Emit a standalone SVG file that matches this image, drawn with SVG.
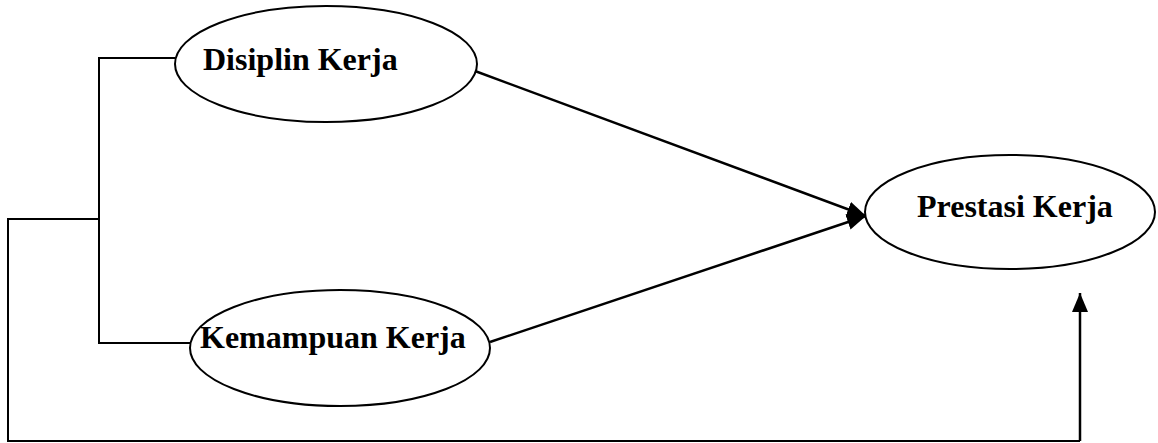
<svg xmlns="http://www.w3.org/2000/svg" width="1158" height="443" viewBox="0 0 1158 443">
  <style>
    .node ellipse { fill: #fff; stroke: #000; stroke-width: 2; }
    .node text { font-family: "Liberation Serif", "Times New Roman", serif; font-weight: bold; font-size: 32px; fill: #000; }
    .wire { fill: none; stroke: #000; stroke-width: 2; }
    .link { fill: none; stroke: #000; stroke-width: 2.5; }
  </style>
  <defs>
    <marker id="head" viewBox="0 0 10 10" refX="10" refY="5" markerWidth="19" markerHeight="16" markerUnits="userSpaceOnUse" orient="auto" preserveAspectRatio="none">
      <path d="M0,0 L10,5 L0,10 Z" fill="#000"/>
    </marker>
  </defs>

  <g id="connectors">
    <!-- bracket joining the two inputs -->
    <polyline class="wire" points="175,58 99,58 99,343 190,343"/>
    <!-- outer loop to the outcome -->
    <polyline class="wire" points="99,219 8,219 8,441 1080,441"/>
    <line class="link" x1="1080" y1="441" x2="1080" y2="293" marker-end="url(#head)"/>
    <!-- direct effects -->
    <line class="link" x1="475" y1="71" x2="866" y2="216" marker-end="url(#head)"/>
    <line class="link" x1="490" y1="342" x2="866" y2="216" marker-end="url(#head)"/>
  </g>

  <g id="disiplin" class="node">
    <ellipse cx="326" cy="64" rx="151" ry="58"/>
    <text x="203" y="70">Disiplin Kerja</text>
  </g>

  <g id="kemampuan" class="node">
    <ellipse cx="340" cy="348" rx="150" ry="58"/>
    <text x="200" y="348">Kemampuan Kerja</text>
  </g>

  <g id="prestasi" class="node">
    <ellipse cx="1010" cy="212" rx="145" ry="57"/>
    <text x="917" y="217">Prestasi Kerja</text>
  </g>
</svg>
